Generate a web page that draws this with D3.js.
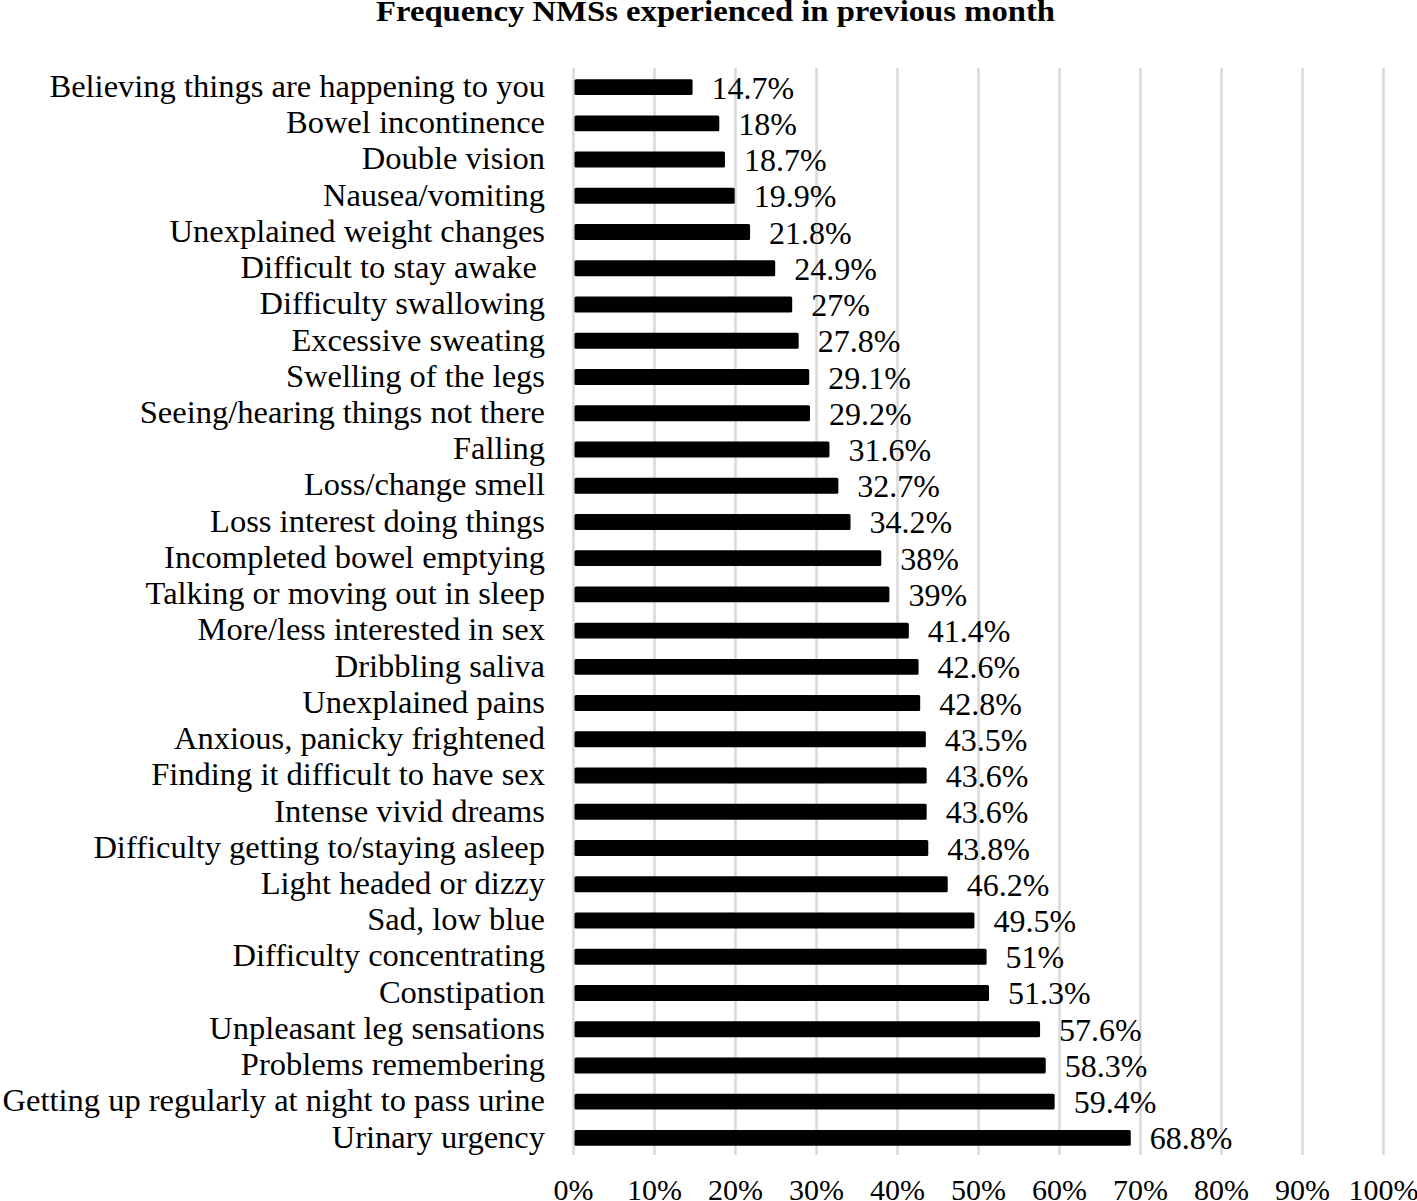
<!DOCTYPE html>
<html>
<head>
<meta charset="utf-8">
<script src="https://cdn.jsdelivr.net/npm/d3@7"></script>
<style>
  body { margin: 0; background: #fff; }
  svg { display: block; }
</style>
</head>
<body>
<div id="chart"></div>
<script>
// Symptom names, top to bottom
const symptoms = [
  "Believing things are happening to you",
  "Bowel incontinence",
  "Double vision",
  "Nausea/vomiting",
  "Unexplained weight changes",
  "Difficult to stay awake ",
  "Difficulty swallowing",
  "Excessive sweating",
  "Swelling of the legs",
  "Seeing/hearing things not there",
  "Falling",
  "Loss/change smell",
  "Loss interest doing things",
  "Incompleted bowel emptying",
  "Talking or moving out in sleep",
  "More/less interested in sex",
  "Dribbling saliva",
  "Unexplained pains",
  "Anxious, panicky frightened",
  "Finding it difficult to have sex",
  "Intense vivid dreams",
  "Difficulty getting to/staying asleep",
  "Light headed or dizzy",
  "Sad, low blue",
  "Difficulty concentrating",
  "Constipation",
  "Unpleasant leg sensations",
  "Problems remembering",
  "Getting up regularly at night to pass urine",
  "Urinary urgency"
];

// Percent of respondents
const percents = [
  14.7, 18, 18.7, 19.9, 21.8, 24.9, 27, 27.8, 29.1, 29.2,
  31.6, 32.7, 34.2, 38, 39, 41.4, 42.6, 42.8, 43.5, 43.6,
  43.6, 43.8, 46.2, 49.5, 51, 51.3, 57.6, 58.3, 59.4, 68.8
];

const xTicks = [0, 10, 20, 30, 40, 50, 60, 70, 80, 90, 100];

const data = symptoms.map((s, i) => ({ name: s, value: percents[i] }));

const W = 1417, H = 1201;

const svg = d3.select("#chart").append("svg")
  .attr("width", W)
  .attr("height", H);

const x = d3.scaleLinear()
  .domain([0, 100])
  .range([573.5, 1383.5]);

const y = d3.scaleBand()
  .domain(symptoms)
  .range([69, 1156])
  .paddingInner(0.56)
  .paddingOuter(0.28);

const font = "'Liberation Serif', 'Times New Roman', serif";

// Title
svg.append("text")
  .attr("x", 376)
  .attr("y", 21)
  .attr("textLength", 679)
  .attr("lengthAdjust", "spacingAndGlyphs")
  .style("font-family", font)
  .style("font-weight", "bold")
  .style("font-size", "30px")
  .text("Frequency NMSs experienced in previous month");

// Gridlines
svg.append("g")
  .selectAll("line")
  .data(xTicks)
  .join("line")
  .attr("x1", d => x(d))
  .attr("x2", d => x(d))
  .attr("y1", 68)
  .attr("y2", 1155)
  .attr("stroke", "#d9d9d9")
  .attr("stroke-width", 2.5);

// X axis labels
svg.append("g")
  .selectAll("text")
  .data(xTicks)
  .join("text")
  .attr("x", d => x(d))
  .attr("y", 1200)
  .attr("text-anchor", "middle")
  .style("font-family", font)
  .style("font-size", "30px")
  .text(d => d + "%");

// Bars
svg.append("g")
  .selectAll("rect")
  .data(data)
  .join("rect")
  .attr("x", x(0) + 1)
  .attr("y", d => y(d.name))
  .attr("width", d => x(d.value) - x(0) - 1)
  .attr("height", y.bandwidth())
  .attr("rx", 1.5)
  .attr("fill", "#000");

// Value labels
svg.append("g")
  .selectAll("text")
  .data(data)
  .join("text")
  .attr("x", d => x(d.value) + 19)
  .attr("y", d => y(d.name) + y.bandwidth() / 2)
  .attr("dy", "0.36em")
  .style("font-family", font)
  .style("font-size", "32px")
  .text(d => d.value + "%");

// Category labels
svg.append("g")
  .selectAll("text")
  .data(data)
  .join("text")
  .attr("x", 545)
  .attr("y", d => y(d.name) + y.bandwidth() / 2)
  .attr("dy", "0.3em")
  .attr("text-anchor", "end")
  .style("font-family", font)
  .style("font-size", "32.5px")
  .style("white-space", "pre")
  .text(d => d.name);
</script>
</body>
</html>
